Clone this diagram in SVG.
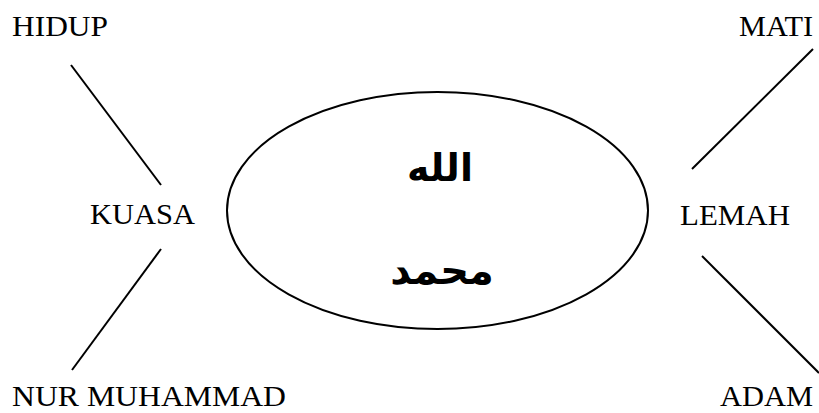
<svg xmlns="http://www.w3.org/2000/svg" width="819" height="413" viewBox="0 0 819 413">
<style>
.t{font-family:"Liberation Serif","Times New Roman",serif;font-size:30px;fill:#000}
.ar{font-family:"DejaVu Sans",sans-serif;font-weight:bold;fill:#000;text-anchor:middle}
.c{stroke:#000;stroke-width:2;fill:none}
</style>
<rect width="819" height="413" fill="#fff"/>
<g id="connectors">
<line class="c" x1="71" y1="65" x2="161" y2="185"/>
<line class="c" x1="161" y1="249" x2="72" y2="370"/>
<line class="c" x1="813" y1="49" x2="692" y2="169"/>
<line class="c" x1="702" y1="256" x2="819" y2="373"/>
</g>
<g id="center">
<ellipse class="c" cx="437.5" cy="210.5" rx="210.5" ry="118.5"/>
<text class="ar" x="440" y="181" font-size="38">الله</text>
<text class="ar" x="442" y="284" font-size="40">محمد</text>
</g>
<g id="hidup"><text class="t" x="12" y="36" textLength="96" lengthAdjust="spacingAndGlyphs">HIDUP</text></g>
<g id="kuasa"><text class="t" x="90" y="224" textLength="105" lengthAdjust="spacingAndGlyphs">KUASA</text></g>
<g id="nur"><text class="t" x="12" y="406" textLength="274" lengthAdjust="spacingAndGlyphs">NUR MUHAMMAD</text></g>
<g id="mati"><text class="t" x="739" y="36" textLength="74" lengthAdjust="spacingAndGlyphs">MATI</text></g>
<g id="lemah"><text class="t" x="680" y="225" textLength="110" lengthAdjust="spacingAndGlyphs">LEMAH</text></g>
<g id="adam"><text class="t" x="720" y="406" textLength="93" lengthAdjust="spacingAndGlyphs">ADAM</text></g>
</svg>
